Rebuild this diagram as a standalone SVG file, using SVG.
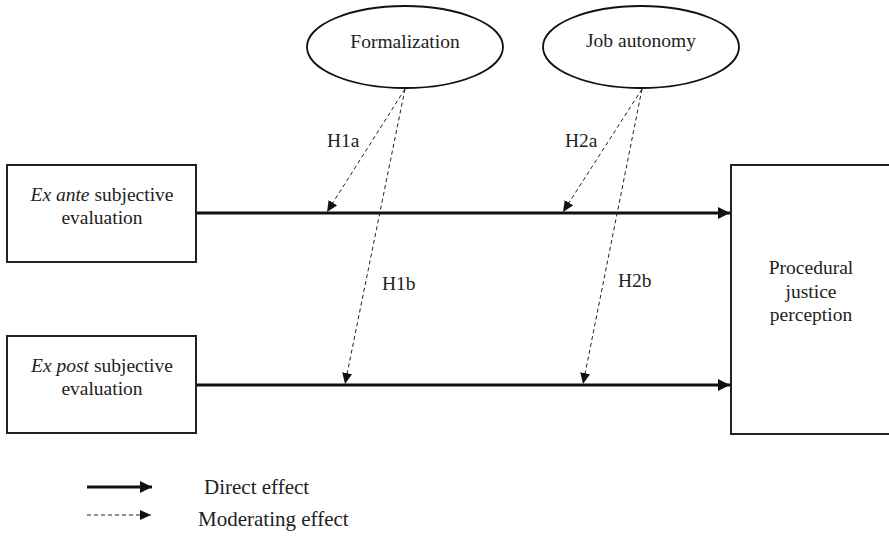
<svg xmlns="http://www.w3.org/2000/svg" width="889" height="539" viewBox="0 0 889 539">
<style>
text{font-family:"Liberation Serif","Times New Roman",serif;font-size:19.5px;fill:#222}
.box{fill:#fff;stroke:#222;stroke-width:2}
.ell{fill:#fff;stroke:#111;stroke-width:1.8}
.solid{stroke:#111;stroke-width:3;fill:none}
.dash{stroke:#222;stroke-width:1;stroke-dasharray:4 3;fill:none}
.leg{font-size:21px}
</style>
<defs>
<marker id="ah" markerUnits="userSpaceOnUse" markerWidth="14" markerHeight="12" refX="12" refY="6" orient="auto">
<path d="M0,0 L12,6 L0,12 z" fill="#111"/>
</marker>
<marker id="ahd" markerUnits="userSpaceOnUse" markerWidth="12" markerHeight="10" refX="11" refY="5" orient="auto">
<path d="M0,0 L11,5 L0,10 z" fill="#111"/>
</marker>
</defs>
<g id="connectors">
<line class="solid" x1="196" y1="213" x2="730" y2="213" marker-end="url(#ah)"/>
<line class="solid" x1="196" y1="385" x2="730" y2="385" marker-end="url(#ah)"/>
<line class="dash" x1="405" y1="89" x2="327" y2="212" marker-end="url(#ahd)"/>
<line class="dash" x1="405" y1="89" x2="345" y2="384" marker-end="url(#ahd)"/>
<line class="dash" x1="642" y1="89" x2="563" y2="212" marker-end="url(#ahd)"/>
<line class="dash" x1="642" y1="89" x2="583" y2="384" marker-end="url(#ahd)"/>
<text x="327" y="147">H1a</text>
<text x="565" y="147">H2a</text>
<text x="382" y="290">H1b</text>
<text x="618" y="287">H2b</text>
</g>
<g id="formalization">
<ellipse class="ell" cx="405" cy="47" rx="98" ry="41"/>
<text x="405" y="48" text-anchor="middle">Formalization</text>
</g>
<g id="job-autonomy">
<ellipse class="ell" cx="641" cy="47" rx="98" ry="41"/>
<text x="641" y="47" text-anchor="middle">Job autonomy</text>
</g>
<g id="ex-ante">
<rect class="box" x="7" y="165" width="189" height="97"/>
<text x="102" y="201" text-anchor="middle"><tspan font-style="italic">Ex ante</tspan> subjective</text>
<text x="102" y="224" text-anchor="middle">evaluation</text>
</g>
<g id="ex-post">
<rect class="box" x="7" y="336" width="189" height="97"/>
<text x="102" y="372" text-anchor="middle"><tspan font-style="italic">Ex post</tspan> subjective</text>
<text x="102" y="395" text-anchor="middle">evaluation</text>
</g>
<g id="procedural-justice">
<rect class="box" x="731" y="165" width="170" height="269"/>
<text x="811" y="274" text-anchor="middle">Procedural</text>
<text x="811" y="298" text-anchor="middle">justice</text>
<text x="811" y="321" text-anchor="middle">perception</text>
</g>
<g id="legend">
<line class="solid" x1="87" y1="487" x2="152" y2="487" marker-end="url(#ah)"/>
<line class="dash" x1="87" y1="515" x2="151" y2="515" marker-end="url(#ahd)"/>
<text class="leg" x="204" y="494">Direct effect</text>
<text class="leg" x="198" y="526">Moderating effect</text>
</g>
</svg>
